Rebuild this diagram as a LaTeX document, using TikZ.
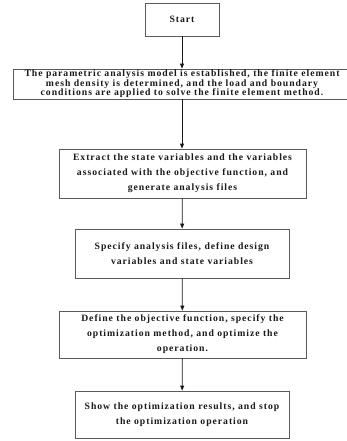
\documentclass[tikz,border=0pt]{standalone}
\usepackage{fontspec}
\setmainfont{Liberation Serif}
\newfontfamily\boxfont[LetterSpace=10]{Liberation Serif}
\usetikzlibrary{arrows.meta}
\definecolor{frame}{HTML}{5A5A5A}
\definecolor{ink}{HTML}{1A1A1A}

\begin{document}
\begin{tikzpicture}[x=1pt,y=-1pt, text=ink,
  stepbox/.style={draw=frame, line width=.8pt, fill=white, align=center,
    inner sep=0pt, font=\boxfont\fontsize{9.7}{15}\selectfont\bfseries},
  tightbox/.style={stepbox, font=\boxfont\fontsize{9.7}{9.6}\selectfont\bfseries},
  flow/.style={draw=ink, line width=.8pt, -{Triangle[length=5pt,width=4pt]}}]
  \useasboundingbox (0,0) rectangle (346,441);
  % boxes, top to bottom
  \node[stepbox, minimum width=74pt, minimum height=33pt] (start) at (182,19.5) {Start};
  \node[tightbox, minimum width=338pt, minimum height=30pt] (model) at (182,84)
    {The parametric analysis model is established, the finite element\\
     mesh density is determined, and the load and boundary\\
     conditions are applied to solve the finite element method.};
  \node[stepbox, minimum width=247pt, minimum height=49pt] (extract) at (182.5,173.5)
    {Extract the state variables and the variables\\
     associated with the objective function, and\\
     generate analysis files};
  \node[stepbox, minimum width=214pt, minimum height=49pt] (specify) at (182,253.5)
    {Specify analysis files, define design\\
     variables and state variables};
  \node[stepbox, minimum width=247pt, minimum height=47pt] (define) at (182.5,334.5)
    {Define the objective function, specify the\\
     optimization method, and optimize the\\
     operation.};
  \node[stepbox, minimum width=214pt, minimum height=47pt] (show) at (182,414.5)
    {Show the optimization results, and stop\\
     the optimization operation};
  % connectors
  \draw[flow] (start) -- (model);
  \draw[flow] (model) -- (model |- extract.north);
  \draw[flow] (extract) -- (specify);
  \draw[flow] (specify) -- (define);
  \draw[flow] (define) -- (show);
\end{tikzpicture}
\end{document}
